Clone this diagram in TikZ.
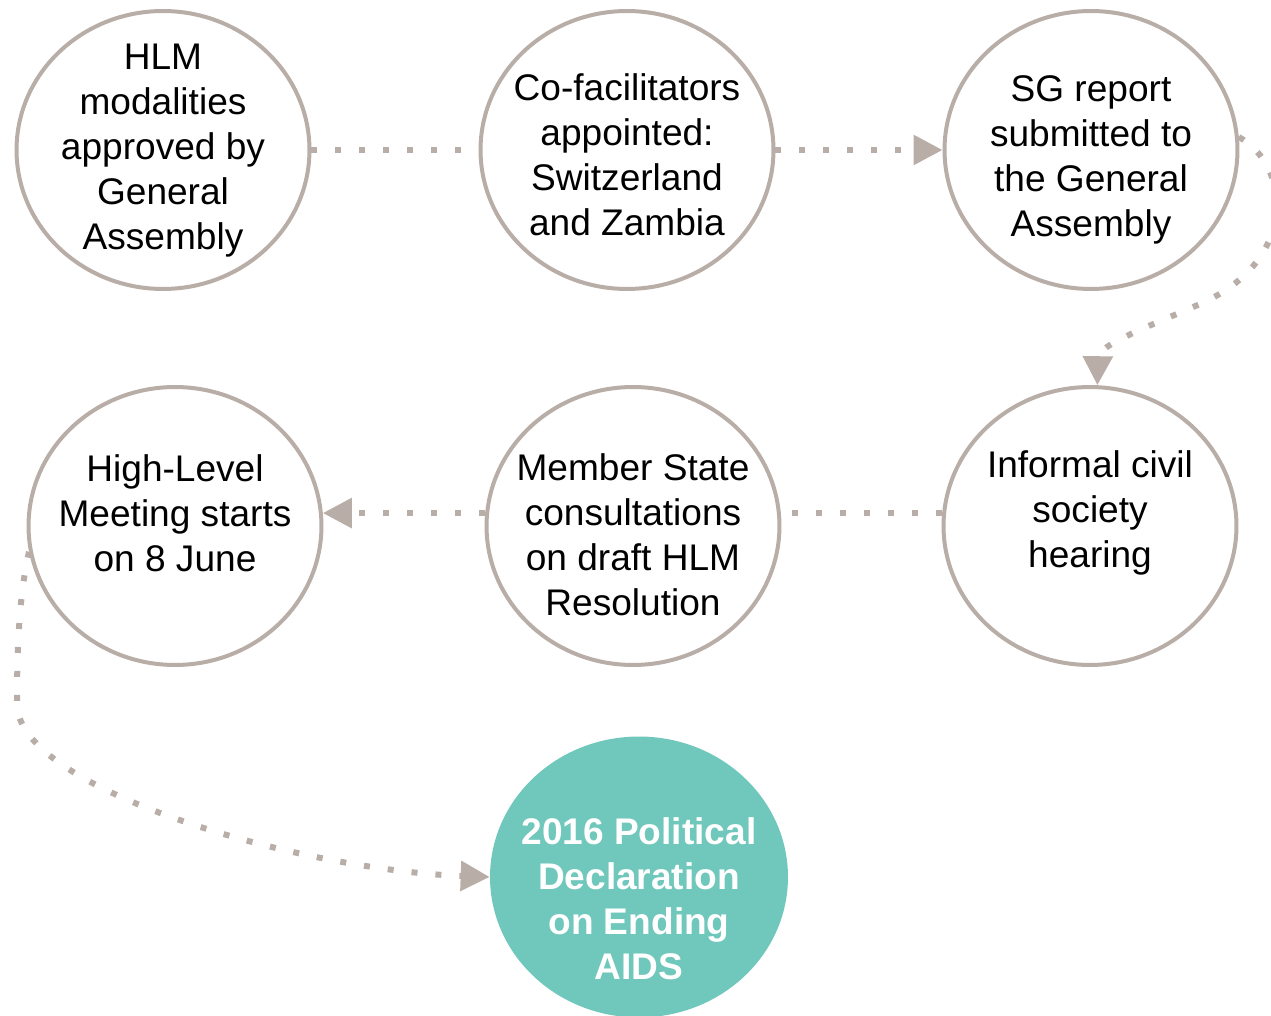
\documentclass[tikz,border=0pt]{standalone}
\usepackage{fontspec}
\setmainfont{Liberation Sans}
\usetikzlibrary{positioning, arrows.meta, shapes.geometric}
\definecolor{ringgray}{RGB}{184,174,167}
\definecolor{goalteal}{RGB}{112,199,187}

\begin{document}
\begin{tikzpicture}[
  x=0.02cm, y=-0.02cm,
  >={Triangle[length=0.58cm, width=0.58cm]},
  % all stages share one ellipse size so the ring looks even
  stage/.style={ellipse, draw=ringgray, line width=0.08cm, fill=white, minimum width=5.86cm, minimum height=5.56cm, inner sep=0pt},
  goal/.style={ellipse, fill=goalteal, minimum width=5.96cm, minimum height=5.62cm, inner sep=0pt},
  words/.style={align=center, inner sep=0pt, font=\fontsize{21.1}{25.6}\selectfont},
  flow/.style={draw=ringgray, line width=0.12cm, dash pattern=on 0.12cm off 0.36cm, line cap=butt}
]
\useasboundingbox (0,0) rectangle (1271,1016);

% Top row (left to right)
\node[stage] (c1) at (163,150) {};
\node[stage] (c2) at (627,150) {};
\node[stage] (c3) at (1091,150) {};
\node[words] (t1) at (163,151) {HLM\\modalities\\approved by\\General\\Assembly};
\node[words] (t2) at (627,155) {Co-facilitators\\appointed:\\Switzerland\\and Zambia};
\node[words] (t3) at (1091,160) {SG report\\submitted to\\the General\\Assembly};

% Second row (right to left)
\node[stage] (c4) at (1090,526) {};
\node[stage] (c5) at (633,526) {};
\node[stage] (c6) at (175,526) {};
\node[words] (t4) at (1090,513) {Informal civil\\society\\hearing};
\node[words] (t5) at (633,535) {Member State\\consultations\\on draft HLM\\Resolution};
\node[words] (t6) at (175,513) {High-Level\\Meeting starts\\on 8 June};

% Outcome
\node[goal] (final) at (639,877) {};
\node[words, text=white, font=\fontsize{21.1}{25.6}\selectfont\bfseries] (tf) at (639,899) {2016 Political\\Declaration\\on Ending\\AIDS};

% Dotted connectors
\draw[flow] (c1.east) -- (c2.west);
\draw[flow, ->] (c2.east) -- (c3.west);
\draw[flow, ->] (c3.5) .. controls (1290,165) and (1300,260) .. (1200,304)
  .. controls (1150,326) and (1098,345) .. (c4.87);
\draw[flow] (c4.175) -- (c5.5);
\draw[flow, ->] (c5.175) -- (c6.5);
% drop down on the left, then sweep over to the outcome
\draw[flow, ->] (c6.190) .. controls (18,600) and (17,660) .. (17,705)
  .. controls (20,790) and (300,870) .. (final.west);

\end{tikzpicture}
\end{document}
